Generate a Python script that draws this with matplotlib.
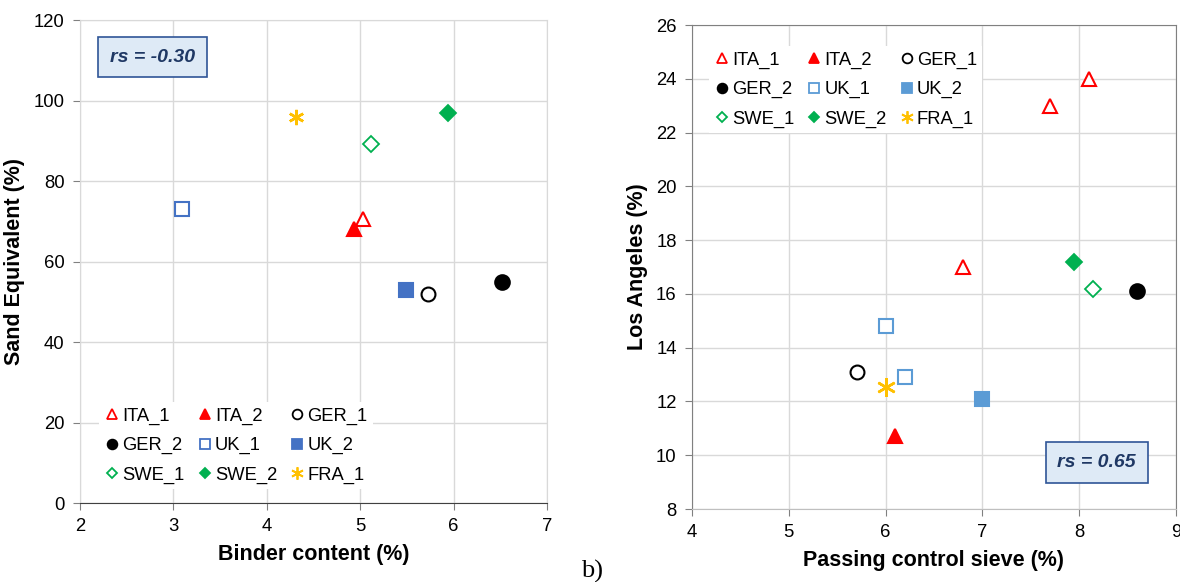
import matplotlib.pyplot as plt
from matplotlib.lines import Line2D

plt.rcParams['font.family'] = ['Liberation Sans', 'DejaVu Sans']

labels = ['ITA_1', 'ITA_2', 'GER_1', 'GER_2', 'UK_1', 'UK_2', 'SWE_1', 'SWE_2', 'FRA_1']

# (a) binder content vs sand equivalent
binder = {'ITA_1': [5.03], 'ITA_2': [4.93], 'GER_1': [5.73], 'GER_2': [6.52],
          'UK_1': [3.09], 'UK_2': [5.49], 'SWE_1': [5.12], 'SWE_2': [5.94],
          'FRA_1': [4.31]}
sand_eq = {'ITA_1': [70.5], 'ITA_2': [68.2], 'GER_1': [52.0], 'GER_2': [55.0],
           'UK_1': [73.0], 'UK_2': [53.0], 'SWE_1': [89.3], 'SWE_2': [97.0],
           'FRA_1': [96.0]}

# (b) passing control sieve vs los angeles
passing = {'ITA_1': [8.1, 7.7, 6.8], 'ITA_2': [6.1], 'GER_1': [5.7], 'GER_2': [8.6],
           'UK_1': [6.0, 6.2], 'UK_2': [7.0], 'SWE_1': [8.14], 'SWE_2': [7.95],
           'FRA_1': [6.0]}
los_ang = {'ITA_1': [24.0, 23.0, 17.0], 'ITA_2': [10.7], 'GER_1': [13.1], 'GER_2': [16.1],
           'UK_1': [14.8, 12.9], 'UK_2': [12.1], 'SWE_1': [16.2], 'SWE_2': [17.2],
           'FRA_1': [12.55]}

red = '#FF0000'
green = '#00B050'
orange = '#FFC000'
star = (6, 2, 0)


def styles(blue, star_size):
    return {
        'ITA_1': dict(marker='^', mfc='white', mec=red, ms=10.5, mew=1.5),
        'ITA_2': dict(marker='^', mfc=red, mec=red, ms=10.5, mew=1.5),
        'GER_1': dict(marker='o', mfc='white', mec='black', ms=10, mew=1.5),
        'GER_2': dict(marker='o', mfc='black', mec='black', ms=10.5, mew=1.5),
        'UK_1': dict(marker='s', mfc='white', mec=blue, ms=10, mew=1.5),
        'UK_2': dict(marker='s', mfc=blue, mec=blue, ms=10, mew=1.5),
        'SWE_1': dict(marker='D', mfc='white', mec=green, ms=8, mew=1.3),
        'SWE_2': dict(marker='D', mfc=green, mec=green, ms=8, mew=1.3),
        'FRA_1': dict(marker=star, mfc=orange, mec=orange, ms=star_size, mew=1.8),
    }


def draw(ax, xs, ys, blue, star_size):
    st = styles(blue, star_size)
    for lab in labels:
        ax.plot(xs[lab], ys[lab], ls='none', zorder=3, clip_on=False, **st[lab])
    # legend handles, reordered so the 3 columns read row by row
    hs = []
    for lab in labels:
        s = dict(st[lab])
        s['ms'] = 7 if lab != 'FRA_1' else 9
        if s['marker'] == 'D':
            s['ms'] = 5.5
        s['mew'] = 1.3
        hs.append(Line2D([], [], ls='none', label=lab, **s))
    order = [0, 3, 6, 1, 4, 7, 2, 5, 8]
    return [hs[i] for i in order]


leg_kw = dict(ncol=3, fontsize=13.2, handlelength=0.8, handletextpad=0.15,
              columnspacing=0.7, labelspacing=0.66, borderpad=0.3, frameon=True,
              edgecolor='none', facecolor='white', framealpha=1, fancybox=False)
box_kw = dict(boxstyle='square,pad=0.6', fc='#DEEAF6', ec='#2F5597', lw=1.2)

fig = plt.figure(figsize=(11.8, 5.82), dpi=100)
ax1 = fig.add_axes([0.0678, 0.1357, 0.3958, 0.8299])
ax2 = fig.add_axes([0.5864, 0.1254, 0.4102, 0.8316])

for ax in (ax1, ax2):
    ax.grid(True, color='#D9D9D9', lw=1, zorder=0)
    ax.set_axisbelow(True)
    ax.tick_params(labelsize=13.3, direction='out', length=5, color='#808080', pad=6)

# left panel
h1 = draw(ax1, binder, sand_eq, '#4472C4', 11)
ax1.set_xlim(2, 7)
ax1.set_ylim(0, 120)
ax1.set_xticks(range(2, 8))
ax1.set_yticks(range(0, 121, 20))
for s in ('top', 'right', 'left'):
    ax1.spines[s].set_color('#D9D9D9')
ax1.spines['bottom'].set_color('#404040')
ax1.set_xlabel('Binder content (%)', fontsize=15.5, fontweight='bold', labelpad=6)
ax1.set_ylabel('Sand Equivalent (%)', fontsize=15.5, fontweight='bold', labelpad=6)
ax1.legend(handles=h1, loc='lower left', bbox_to_anchor=(0.022, 0.01), **leg_kw)
ax1.text(0.155, 0.923, 'rs = -0.30', transform=ax1.transAxes, ha='center', va='center',
         fontsize=14, fontweight='bold', fontstyle='italic', color='#1F3864', bbox=box_kw)

# right panel
h2 = draw(ax2, passing, los_ang, '#5B9BD5', 13.5)
ax2.set_xlim(4, 9)
ax2.set_ylim(8, 26)
ax2.set_xticks(range(4, 10))
ax2.set_yticks(range(8, 27, 2))
for s in ax2.spines.values():
    s.set_color('#808080')
ax2.spines['bottom'].set_color('#BFBFBF')
ax2.set_xlabel('Passing control sieve (%)', fontsize=15.5, fontweight='bold', labelpad=6)
ax2.set_ylabel('Los Angeles (%)', fontsize=15.5, fontweight='bold', labelpad=6)
ax2.legend(handles=h2, loc='upper left', bbox_to_anchor=(0.016, 0.975), **leg_kw)
ax2.text(0.836, 0.096, 'rs = 0.65', transform=ax2.transAxes, ha='center', va='center',
         fontsize=14, fontweight='bold', fontstyle='italic', color='#1F3864', bbox=box_kw)

fig.text(0.492, 0.008, 'b)', fontsize=19, family='Liberation Serif')

fig.savefig('out.png', dpi=100)
